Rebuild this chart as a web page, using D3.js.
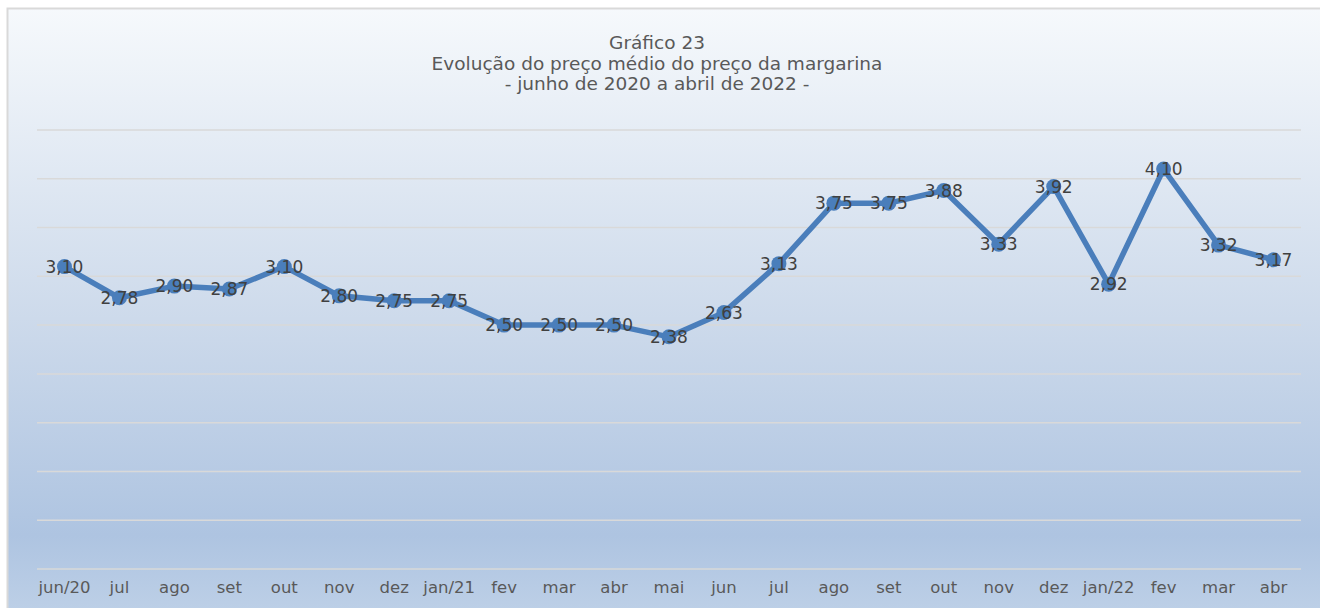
<!DOCTYPE html>
<html>
<head>
<meta charset="utf-8">
<script src="https://cdn.jsdelivr.net/npm/d3@7"></script>
<style>
  body { margin: 0; background: #ffffff; }
  svg { display: block; font-family: "DejaVu Sans", Verdana, sans-serif; }
</style>
</head>
<body>
<div id="wrapper"></div>
<script>
const months = ["jun/20", "jul", "ago", "set", "out", "nov", "dez", "jan/21", "fev", "mar", "abr", "mai",
    "jun", "jul", "ago", "set", "out", "nov", "dez", "jan/22", "fev", "mar", "abr"];
const prices = [3.10, 2.78, 2.90, 2.87, 3.10, 2.80, 2.75, 2.75, 2.50, 2.50, 2.50, 2.38,
    2.63, 3.13, 3.75, 3.75, 3.88, 3.33, 3.92, 2.92, 4.10, 3.32, 3.17];
const yTicks = [0, 0.5, 1, 1.5, 2, 2.5, 3, 3.5, 4, 4.5];
const titleLines = ["Gráfico 23", "Evolução do preço médio do preço da margarina", "- junho de 2020 a abril de 2022 -"];

const dataset = months.map((m, i) => ({ key: i, label: m, value: prices[i] }));

let dimensions = {
    width: 1320,
    height: 608,
    margin: { top: 130, right: 19, bottom: 39, left: 37 }
};
dimensions.bounded_width = dimensions.width - dimensions.margin.left - dimensions.margin.right;
dimensions.bounded_height = dimensions.height - dimensions.margin.top - dimensions.margin.bottom;

const wrapper = d3.select("#wrapper")
    .append("svg")
    .attr("width", dimensions.width)
    .attr("height", dimensions.height);

const defs = wrapper.append("defs");
const grad = defs.append("linearGradient")
    .attr("id", "bg")
    .attr("x1", 0).attr("y1", 0).attr("x2", 0).attr("y2", 1);
grad.append("stop").attr("offset", "0%").attr("stop-color", "#f6f9fc");
grad.append("stop").attr("offset", "50%").attr("stop-color", "#cddaeb");
grad.append("stop").attr("offset", "85%").attr("stop-color", "#aec4e1");
grad.append("stop").attr("offset", "100%").attr("stop-color", "#c0d2e8");

// chart area (cut off at right and bottom like the source)
wrapper.append("rect")
    .attr("x", 7.5).attr("y", 8.5)
    .attr("width", 1330).attr("height", 620)
    .attr("fill", "url(#bg)")
    .attr("stroke", "#d9d9d9")
    .attr("stroke-width", 2);

const title = wrapper.append("text")
    .attr("text-anchor", "middle")
    .attr("fill", "#595959")
    .style("font-size", "18.5px");
titleLines.forEach((t, i) => {
    title.append("tspan")
        .attr("x", 657)
        .attr("y", 49 + i * 20.5)
        .text(t);
});

const bounds = wrapper.append("g")
    .attr("transform", `translate(${dimensions.margin.left},${dimensions.margin.top})`);

const xScale = d3.scaleBand()
    .domain(dataset.map(d => d.key))
    .range([0, dimensions.bounded_width]);

const yScale = d3.scaleLinear()
    .domain([0, 4.5])
    .range([dimensions.bounded_height, 0]);

const xPos = d => xScale(d.key) + xScale.bandwidth() / 2;

// gridlines
bounds.append("g")
    .selectAll("line")
    .data(yTicks)
    .join("line")
    .attr("x1", 0)
    .attr("x2", dimensions.bounded_width)
    .attr("y1", d => yScale(d))
    .attr("y2", d => yScale(d))
    .attr("stroke", "#d9d9d9")
    .attr("stroke-width", 1.5);

// x axis labels
const xAxis = d3.axisBottom(xScale)
    .tickSize(0)
    .tickPadding(12)
    .tickFormat(k => months[k]);
const xAxisGroup = bounds.append("g")
    .attr("transform", `translate(0,${dimensions.bounded_height})`)
    .call(xAxis);
xAxisGroup.select(".domain").remove();
xAxisGroup.selectAll("text")
    .attr("fill", "#595959")
    .style("font-size", "16.5px")
    .style("font-family", "\"DejaVu Sans\", Verdana, sans-serif");

// line
const lineGen = d3.line()
    .x(xPos)
    .y(d => yScale(d.value));

bounds.append("path")
    .datum(dataset)
    .attr("d", lineGen)
    .attr("fill", "none")
    .attr("stroke", "#4a7ebb")
    .attr("stroke-width", 5.5)
    .attr("stroke-linejoin", "round");

bounds.append("g")
    .selectAll("circle")
    .data(dataset)
    .join("circle")
    .attr("cx", xPos)
    .attr("cy", d => yScale(d.value))
    .attr("r", 7.5)
    .attr("fill", "#4a7ebb");

// data labels
bounds.append("g")
    .selectAll("text")
    .data(dataset)
    .join("text")
    .attr("x", xPos)
    .attr("y", d => yScale(d.value))
    .attr("dy", "0.36em")
    .attr("text-anchor", "middle")
    .attr("fill", "#404040")
    .style("font-size", "17px")
    .text(d => d3.format(".2f")(d.value).replace(".", ","));
</script>
</body>
</html>
